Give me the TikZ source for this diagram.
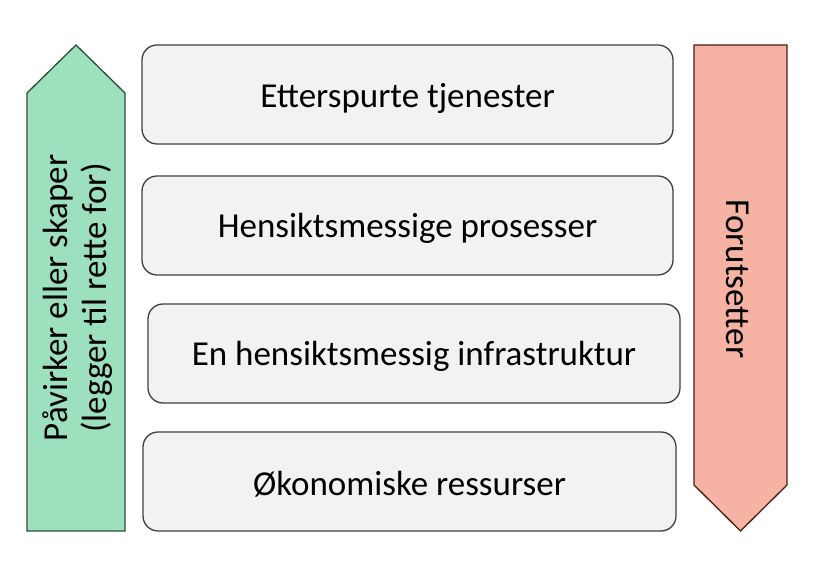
\documentclass[tikz,border=0pt]{standalone}
\usepackage{fontspec}
\setmainfont{Carlito}
\definecolor{boxfill}{RGB}{242,242,242}
\definecolor{boxline}{RGB}{64,64,64}
\definecolor{greenfill}{RGB}{157,224,190}
\definecolor{greenline}{RGB}{45,75,60}
\definecolor{redfill}{RGB}{246,178,162}
\definecolor{redline}{RGB}{70,30,25}
\begin{document}
\begin{tikzpicture}[x=1pt,y=1pt,
  layerbox/.style={draw=boxline, fill=boxfill, line width=1.3pt, rounded corners=15pt, inner sep=0pt},
  layertext/.style={font=\fontsize{35}{40}\selectfont, text=black},
  sidetext/.style={font=\fontsize{35}{39}\selectfont, text=black, align=center, rotate=90}]
\useasboundingbox (0,0) rectangle (820,575);
% boxes
\draw[layerbox] (142,431) rectangle (673,530);
\node[layertext] (b1) at (407.5,477) {Etterspurte tjenester};
\draw[layerbox] (142,300) rectangle (673,399);
\node[layertext] (b2) at (407.5,347) {Hensiktsmessige prosesser};
\draw[layerbox] (148,172) rectangle (680,271);
\node[layertext] (b3) at (414,219) {En hensiktsmessig infrastruktur};
\draw[layerbox] (143,44) rectangle (676,143);
\node[layertext] (b4) at (409.5,91) {Økonomiske ressurser};
% left arrow
\draw[draw=greenline, fill=greenfill, line width=1.3pt] (27,44) -- (27,482) -- (76,530) -- (125,482) -- (125,44) -- cycle;
\node[sidetext] (lt) at (78,277) {Påvirker eller skaper\\(legger til rette for)};
% right arrow
\draw[draw=redline, fill=redfill, line width=1.3pt] (694,530) -- (787,530) -- (787,90) -- (740.5,44) -- (694,90) -- cycle;
\node[sidetext, rotate=-180] (rt) at (738,296) {Forutsetter};
\end{tikzpicture}
\end{document}
